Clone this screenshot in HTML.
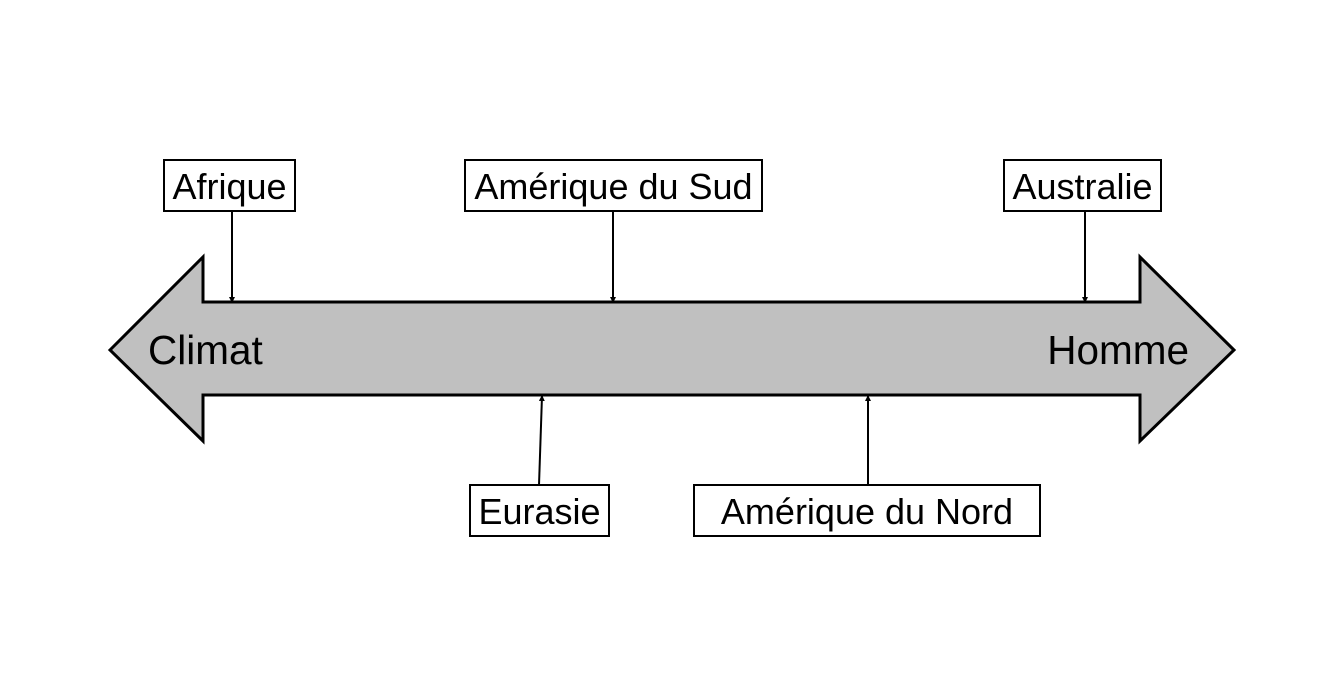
<!DOCTYPE html>
<html><head><meta charset="utf-8"><style>html,body{margin:0;padding:0;background:#fff}svg{display:block}</style></head>
<body>
<svg width="1344" height="699" viewBox="0 0 1344 699" xmlns="http://www.w3.org/2000/svg" font-family="Liberation Sans, Arial, sans-serif">
<defs><marker id="a" markerWidth="6" markerHeight="6" refX="5" refY="3" orient="auto" markerUnits="userSpaceOnUse"><path d="M0,0 L6,3 L0,6 z" fill="#000"/></marker></defs>
<polygon points="110,350 203,257 203,302 1140,302 1140,257 1234,350 1140,441 1140,395 203,395 203,441" fill="#c0c0c0" stroke="#000" stroke-width="3"/>
<text x="148" y="364" font-size="40.5">Climat</text>
<text x="1189" y="364" font-size="40.5" text-anchor="end">Homme</text>
<g fill="#fff" stroke="#000" stroke-width="2">
<rect x="164" y="160" width="131" height="51"/>
<rect x="465" y="160" width="297" height="51"/>
<rect x="1004" y="160" width="157" height="51"/>
<rect x="470" y="485" width="139" height="51"/>
<rect x="694" y="485" width="346" height="51"/>
</g>
<g stroke="#000" stroke-width="2" marker-end="url(#a)">
<line x1="232" y1="211" x2="232" y2="302"/>
<line x1="613" y1="211" x2="613" y2="302"/>
<line x1="1085" y1="211" x2="1085" y2="302"/>
<line x1="539" y1="485" x2="542" y2="396"/>
<line x1="868" y1="485" x2="868" y2="396"/>
</g>
<g font-size="36" text-anchor="middle">
<text x="229.5" y="199">Afrique</text>
<text x="613.5" y="199">Amérique du Sud</text>
<text x="1082.5" y="199">Australie</text>
<text x="539.5" y="524">Eurasie</text>
<text x="867" y="524">Amérique du Nord</text>
</g>
</svg>
</body></html>
